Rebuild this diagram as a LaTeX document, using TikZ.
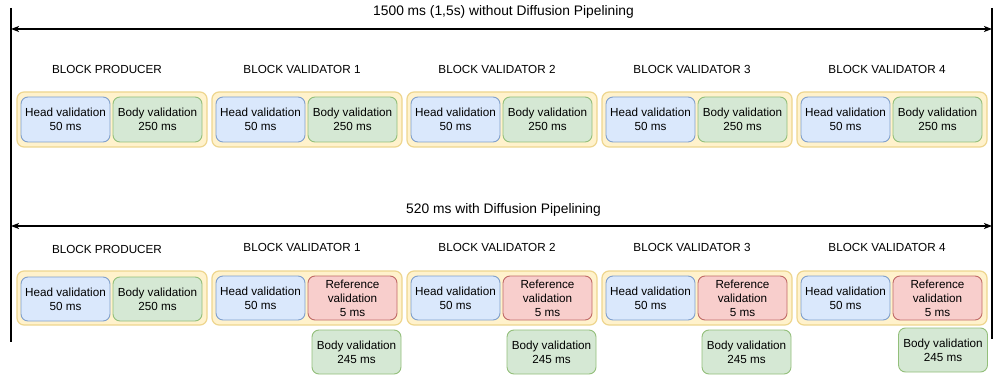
\documentclass[tikz,border=0pt]{standalone}
\usepackage{fontspec}
\setmainfont{Liberation Sans}
\usetikzlibrary{arrows.meta}
\definecolor{grpfill}{HTML}{FFF2CC}
\definecolor{grpline}{HTML}{EED68F}
\definecolor{bluefill}{HTML}{DAE8FC}
\definecolor{blueline}{HTML}{7F9FCC}
\definecolor{greenfill}{HTML}{D5E8D4}
\definecolor{greenline}{HTML}{93BF7A}
\definecolor{redfill}{HTML}{F8CECC}
\definecolor{redline}{HTML}{C06A66}
\tikzset{
  groupbox/.style={draw=grpline,fill=grpfill,line width=1.2pt,rounded corners=7pt,
    minimum width=190pt,inner sep=0pt},
  box/.style={line width=0.9pt,rounded corners=7pt,minimum width=89pt,minimum height=44pt,
    inner sep=0pt,align=center,font=\fontsize{11.7}{14}\selectfont},
  headbox/.style={box,draw=blueline,fill=bluefill},
  bodybox/.style={box,draw=greenline,fill=greenfill},
  refbox/.style={box,draw=redline,fill=redfill},
  blocklabel/.style={font=\fontsize{11.7}{14}\selectfont},
  titletext/.style={font=\fontsize{13.8}{16}\selectfont},
}
\begin{document}
\begin{tikzpicture}[x=1pt,y=-1pt]
        \useasboundingbox[fill=white] (0,0) rectangle (1000,379);
        % time axis
        \coordinate (lefttop) at (11,8);
        \coordinate (leftbot) at (11,342);
        \coordinate (righttop) at (992,8);
        \coordinate (rightbot) at (992,339);
        \coordinate (slowl) at (11,29);
        \coordinate (slowr) at (992,29);
        \coordinate (fastl) at (11,226);
        \coordinate (fastr) at (992,226);
        \draw [line width=1.3pt] (lefttop) -- (leftbot);
        \draw [line width=1.3pt] (righttop) -- (rightbot);
        \draw [line width=1.2pt,{Stealth[length=8pt,width=6pt,inset=2pt]}-{Stealth[length=8pt,width=6pt,inset=2pt]}] (slowl) -- (slowr);
        \draw [line width=1.2pt,{Stealth[length=8pt,width=6pt,inset=2pt]}-{Stealth[length=8pt,width=6pt,inset=2pt]}] (fastl) -- (fastr);
        \node[titletext] (slowtitle) at (503.5,12) {1500 ms (1,5s) without Diffusion Pipelining};
        \node[titletext] (fasttitle) at (503.5,210) {520 ms with Diffusion Pipelining};
        % without pipelining
        \node[blocklabel] (prodA) at (107,69) {BLOCK PRODUCER};
        \node[blocklabel] (valA1) at (302,69) {BLOCK VALIDATOR 1};
        \node[blocklabel] (valA2) at (497,69) {BLOCK VALIDATOR 2};
        \node[blocklabel] (valA3) at (692,69) {BLOCK VALIDATOR 3};
        \node[blocklabel] (valA4) at (887,69) {BLOCK VALIDATOR 4};
        \node[groupbox,minimum height=55pt] (grpA0) at (112,119.5) {};
        \node[groupbox,minimum height=55pt] (grpA1) at (307,119.5) {};
        \node[groupbox,minimum height=55pt] (grpA2) at (502,119.5) {};
        \node[groupbox,minimum height=55pt] (grpA3) at (697,119.5) {};
        \node[groupbox,minimum height=55pt] (grpA4) at (892,119.5) {};
        \node[headbox,minimum height=45pt] (headA0) at (65.5,119.5) {Head validation\\50 ms};
        \node[bodybox,minimum height=45pt] (bodyA0) at (157.5,119.5) {Body validation\\250 ms};
        \node[headbox,minimum height=45pt] (headA1) at (260.5,119.5) {Head validation\\50 ms};
        \node[bodybox,minimum height=45pt] (bodyA1) at (352.5,119.5) {Body validation\\250 ms};
        \node[headbox,minimum height=45pt] (headA2) at (455.5,119.5) {Head validation\\50 ms};
        \node[bodybox,minimum height=45pt] (bodyA2) at (547.5,119.5) {Body validation\\250 ms};
        \node[headbox,minimum height=45pt] (headA3) at (650.5,119.5) {Head validation\\50 ms};
        \node[bodybox,minimum height=45pt] (bodyA3) at (742.5,119.5) {Body validation\\250 ms};
        \node[headbox,minimum height=45pt] (headA4) at (845.5,119.5) {Head validation\\50 ms};
        \node[bodybox,minimum height=45pt] (bodyA4) at (937.5,119.5) {Body validation\\250 ms};
        % with pipelining
        \node[blocklabel] (prodB) at (107,249) {BLOCK PRODUCER};
        \node[blocklabel] (valB1) at (302,247) {BLOCK VALIDATOR 1};
        \node[blocklabel] (valB2) at (497,247) {BLOCK VALIDATOR 2};
        \node[blocklabel] (valB3) at (692,247) {BLOCK VALIDATOR 3};
        \node[blocklabel] (valB4) at (887,247) {BLOCK VALIDATOR 4};
        \node[groupbox,minimum height=54pt] (grpB0) at (112,298) {};
        \node[groupbox,minimum height=54pt] (grpB1) at (307,298) {};
        \node[groupbox,minimum height=54pt] (grpB2) at (502,298) {};
        \node[groupbox,minimum height=54pt] (grpB3) at (697,298) {};
        \node[groupbox,minimum height=54pt] (grpB4) at (892,298) {};
        \node[headbox] (headB0) at (65.5,299) {Head validation\\50 ms};
        \node[bodybox] (bodyB0) at (157.5,299) {Body validation\\250 ms};
        \node[headbox] (headB1) at (260.5,298) {Head validation\\50 ms};
        \node[refbox] (refB1) at (352.5,298) {Reference\\validation\\5 ms};
        \node[headbox] (headB2) at (455.5,298) {Head validation\\50 ms};
        \node[refbox] (refB2) at (547.5,298) {Reference\\validation\\5 ms};
        \node[headbox] (headB3) at (650.5,298) {Head validation\\50 ms};
        \node[refbox] (refB3) at (742.5,298) {Reference\\validation\\5 ms};
        \node[headbox] (headB4) at (845.5,298) {Head validation\\50 ms};
        \node[refbox] (refB4) at (937.5,298) {Reference\\validation\\5 ms};
        \node[bodybox] (bodyB1) at (356.5,352) {Body validation\\245 ms};
        \node[bodybox] (bodyB2) at (551.5,352) {Body validation\\245 ms};
        \node[bodybox] (bodyB3) at (746.5,352) {Body validation\\245 ms};
        \node[bodybox] (bodyB4) at (943,350) {Body validation\\245 ms};
    \end{tikzpicture}
\end{document}
